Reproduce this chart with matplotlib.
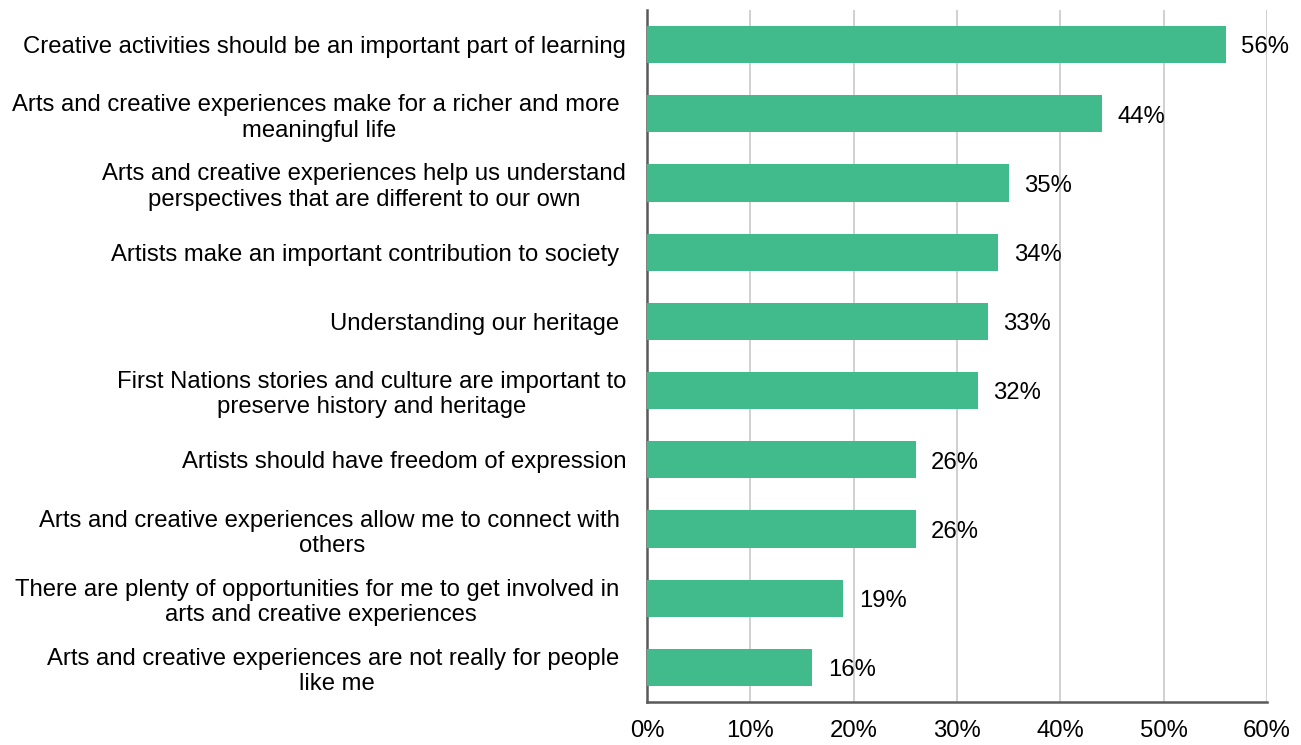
import matplotlib.pyplot as plt
from matplotlib.ticker import FuncFormatter

plt.rcParams['font.family'] = ['Liberation Sans', 'DejaVu Sans']

# statements, top to bottom
labels = [
    "Creative activities should be an important part of learning",
    "Arts and creative experiences make for a richer and more \nmeaningful life",
    "Arts and creative experiences help us understand\nperspectives that are different to our own",
    "Artists make an important contribution to society ",
    "Understanding our heritage ",
    "First Nations stories and culture are important to\npreserve history and heritage",
    "Artists should have freedom of expression",
    "Arts and creative experiences allow me to connect with \nothers",
    "There are plenty of opportunities for me to get involved in \narts and creative experiences",
    "Arts and creative experiences are not really for people \nlike me",
]
values = [56, 44, 35, 34, 33, 32, 26, 26, 19, 16]
x_ticks = [0, 10, 20, 30, 40, 50, 60]

BAR_COLOR = "#42BB8C"
FS = 17.2

fig = plt.figure(figsize=(13.01, 7.45), dpi=100)
ax = fig.add_axes([0.4973, 0.0577, 0.4766, 0.9289])

ypos = list(range(len(labels)))
ax.barh(ypos, values, height=0.54, color=BAR_COLOR, zorder=3)

for y, v in zip(ypos, values):
    ax.text(v + 1.5, y + 0.04, f"{v}%", va="center", ha="left", fontsize=FS, zorder=4)

ax.set_xlim(0, 60)
ax.set_ylim(9.5, -0.5)
ax.set_xticks(x_ticks)
ax.xaxis.set_major_formatter(FuncFormatter(lambda x, _: f"{x:.0f}%"))
ax.set_yticks(ypos)
ax.set_yticklabels(labels, fontsize=FS, multialignment="center")
ax.tick_params(axis="y", length=0, pad=15)
ax.tick_params(axis="x", length=0, pad=13, labelsize=FS)

ax.grid(axis="x", color="#C8C8C8", linewidth=1.2, zorder=0)
ax.set_axisbelow(True)
for s in ("top", "right"):
    ax.spines[s].set_visible(False)
for s in ("left", "bottom"):
    ax.spines[s].set_color("#595959")
    ax.spines[s].set_linewidth(1.8)

fig.savefig("out.png", dpi=100)
